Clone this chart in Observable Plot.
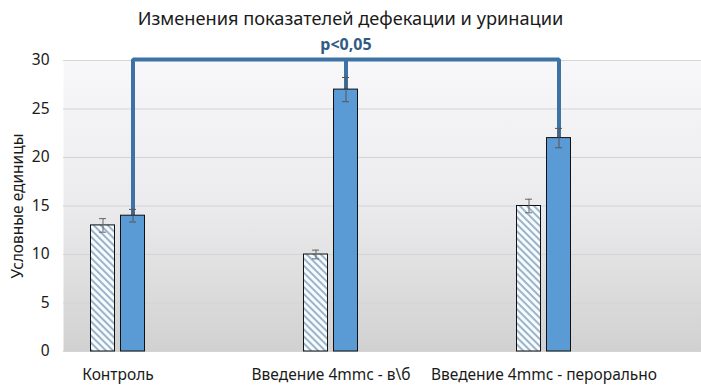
<!DOCTYPE html>
<html>
<head>
<meta charset="utf-8">
<script src="https://cdn.jsdelivr.net/npm/d3@7"></script>
<script src="https://cdn.jsdelivr.net/npm/@observablehq/plot@0.6"></script>
<style>
  html, body { margin: 0; padding: 0; background: #fff; }
  body { width: 701px; height: 392px; overflow: hidden; font-family: "Noto Sans", "Open Sans", sans-serif; }
  #title { height: 34px; line-height: 36px; text-align: center; font-size: 18.2px; color: #1a1a1a; }
</style>
</head>
<body>
<svg width="0" height="0" style="position:absolute">
  <defs>
    <linearGradient id="bg" x1="0" y1="0" x2="0" y2="1">
      <stop offset="0" stop-color="#f8f8fb"/>
      <stop offset="0.5" stop-color="#ebebed"/>
      <stop offset="1" stop-color="#d1d1d1"/>
    </linearGradient>
    <pattern id="hatch" patternUnits="userSpaceOnUse" width="5" height="5" patternTransform="rotate(-45)">
      <rect width="5" height="5" fill="#f5fbff"/>
      <rect x="0" y="0" width="2" height="5" fill="#9db4c8"/>
    </pattern>
  </defs>
</svg>
<div id="title">Изменения показателей дефекации и уринации</div>
<div id="chart"></div>
<script>
const categories = ["Контроль", "Введение 4mmc - в\\б", "Введение 4mmc - перорально"];
const defecation = [13, 10, 15];
const defecationErr = [0.7, 0.45, 0.7];
const urination = [14, 27, 22];
const urinationErr = [0.65, 1.25, 1.0];
const yTicks = [0, 5, 10, 15, 20, 25, 30];
const bracketTop = 30.1;
const significance = "p<0,05";
const yLabel = "Условные единицы";

const hatchedData = categories.map((c, i) => ({c, v: defecation[i], e: defecationErr[i]}));
const blueData = categories.map((c, i) => ({c, v: urination[i], e: urinationErr[i]}));
const bracket = [
  {c: categories[0], v: urination[0]},
  {c: categories[0], v: bracketTop},
  {c: categories[2], v: bracketTop},
  {c: categories[2], v: urination[2]}
];
const middleLeg = [{c: categories[1], v1: urination[1], v2: bracketTop}];

const chart = Plot.plot({
  width: 701,
  height: 358,
  marginLeft: 63,
  marginRight: 0,
  marginTop: 26,
  marginBottom: 41,
  style: {fontFamily: "'Noto Sans', 'Open Sans', sans-serif", fontSize: "15.5px", color: "#1a1a1a", background: "transparent"},
  x: {domain: categories, range: [10.5, 649.5], padding: 0, tickSize: 0, tickPadding: 17, label: null},
  y: {domain: [0, 30], ticks: yTicks, tickSize: 0, tickPadding: 14, label: null},
  marks: [
    Plot.frame({fill: "url(#bg)", stroke: "none"}),
    Plot.ruleY(yTicks, {stroke: "#d4d4d8", strokeWidth: 1}),
    Plot.line(bracket, {x: "c", y: "v", dx: 15, stroke: "#3d72a4", strokeWidth: 4, strokeLinejoin: "miter", strokeLinecap: "butt"}),
    Plot.ruleX(middleLeg, {x: "c", y1: "v1", y2: "v2", dx: 15, stroke: "#3d72a4", strokeWidth: 4}),
    Plot.barY(hatchedData, {x: "c", y: "v", fill: "url(#hatch)", stroke: "#111", strokeWidth: 1, insetLeft: 79.5, insetRight: 109.5}),
    Plot.barY(blueData, {x: "c", y: "v", fill: "#5b9bd5", stroke: "#111", strokeWidth: 1, insetLeft: 109.5, insetRight: 79.5}),
    Plot.ruleX(hatchedData, {x: "c", y1: d => d.v - d.e, y2: d => d.v + d.e, dx: -15, stroke: "#666", strokeWidth: 1}),
    Plot.ruleX(blueData, {x: "c", y1: d => d.v - d.e, y2: d => d.v + d.e, dx: 15, stroke: "#555", strokeWidth: 1}),
    Plot.tickY(hatchedData, {x: "c", y: d => d.v - d.e, stroke: "#666", insetLeft: 88, insetRight: 118}),
    Plot.tickY(hatchedData, {x: "c", y: d => d.v + d.e, stroke: "#666", insetLeft: 88, insetRight: 118}),
    Plot.tickY(blueData, {x: "c", y: d => d.v - d.e, stroke: "#555", insetLeft: 118, insetRight: 88}),
    Plot.tickY(blueData, {x: "c", y: d => d.v + d.e, stroke: "#555", insetLeft: 118, insetRight: 88}),
    Plot.text([significance], {x: () => categories[1], y: () => bracketTop, text: d => d, dx: 15, dy: -15, fill: "#2f5b85", fontWeight: "bold", fontSize: 16}),
    Plot.text([yLabel], {frameAnchor: "left", text: d => d, rotate: -90, textAnchor: "middle", dx: -45, fill: "#1a1a1a", fontSize: 15.5})
  ]
});
document.getElementById("chart").appendChild(chart);
</script>
</body>
</html>
